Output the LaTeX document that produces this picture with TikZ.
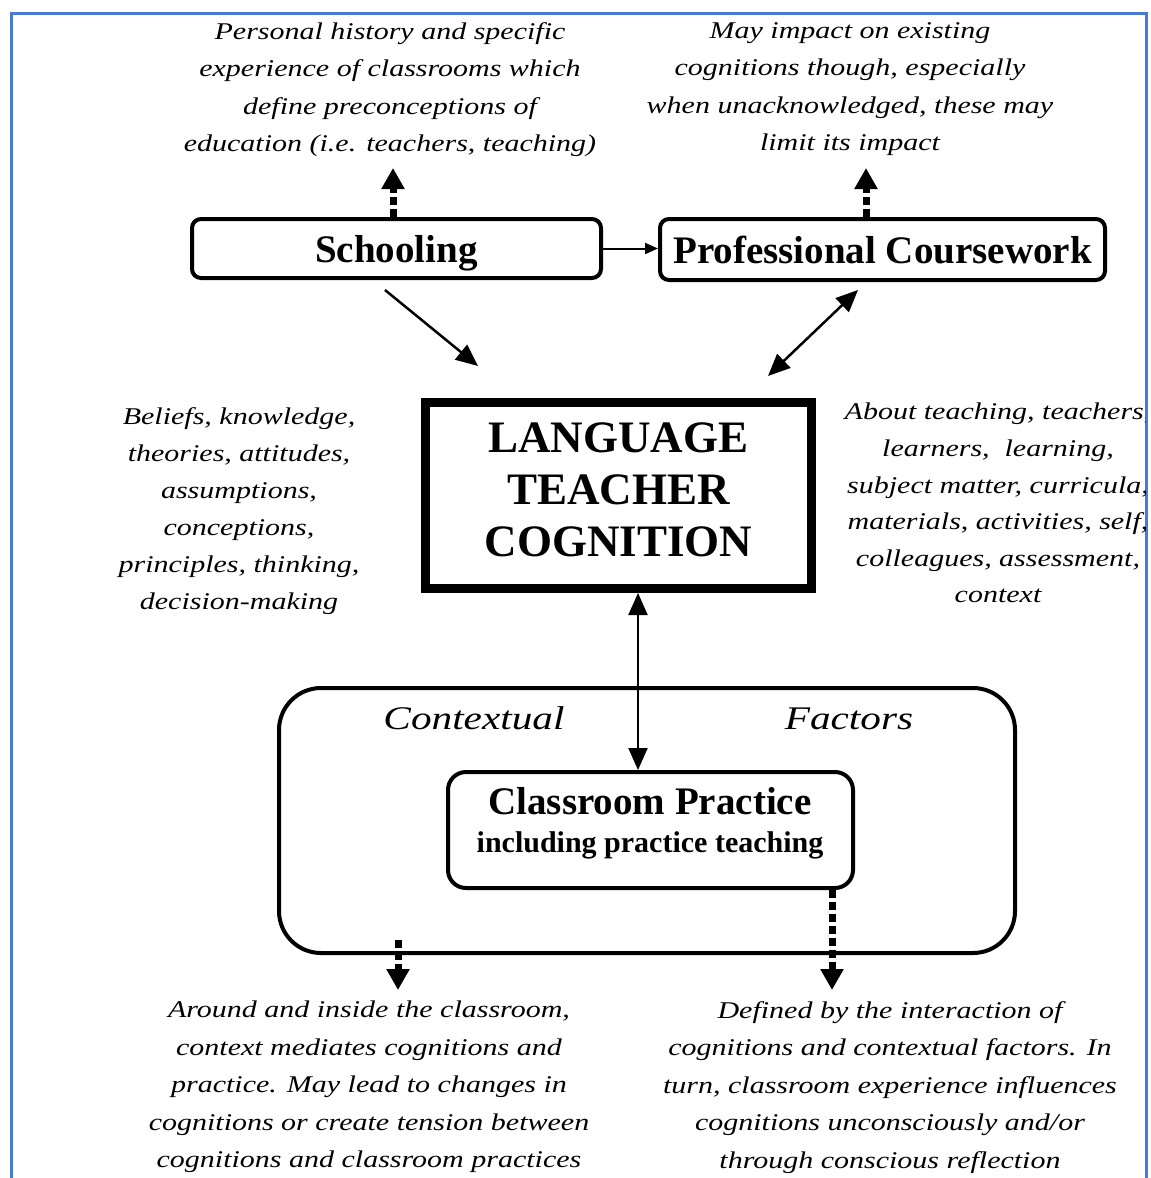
\documentclass[tikz,border=0pt]{standalone}
\usepackage{fontspec}
\setmainfont{Liberation Serif}
\newfontfamily\notefont[FakeStretch=1.25]{Liberation Serif}
\usetikzlibrary{arrows.meta,positioning}
\definecolor{frameblue}{HTML}{4A7BD0}

\begin{document}
\begin{tikzpicture}[x=1pt,y=-1pt,>={Triangle[length=22pt,width=19pt]},
    box/.style={draw,line width=4pt,rounded corners=9pt,inner sep=0pt,text depth=0pt,font=\fontsize{39}{44}\selectfont\bfseries},
    note/.style={align=center,inner sep=0pt,anchor=north,font=\notefont\itshape\fontsize{24}{37.5}\selectfont},
    dotarrow/.style={line width=7pt,dash pattern=on 8pt off 4pt,-{Triangle[length=21pt,width=22pt]}},
    link/.style={line width=2.5pt}]
    \useasboundingbox (0,0) rectangle (1151,1178);
    \fill[white] (0,0) rectangle (1151,1178);
    \draw[frameblue,line width=3pt] (11,1178) -- (11,13) -- (1146,13) -- (1146,1178);
    \node[box,minimum width=409pt,minimum height=59pt] (school) at (396.5,248.5) {Schooling};
    \node[box,minimum width=445pt,minimum height=61pt] (course) at (882.5,249.5) {Professional Coursework};
    \node[draw,line width=9pt,minimum width=386pt,minimum height=186pt] (ltc) at (618.5,495.5) {};
    \node[align=center,inner sep=0pt,font=\fontsize{45}{52}\selectfont\bfseries] (ltctitle) at (618.5,490) {LANGUAGE\\TEACHER\\COGNITION};
    \node[draw,line width=4pt,rounded corners=42pt,minimum width=736pt,minimum height=265pt] (context) at (647,820.5) {};
    \node[anchor=base,font=\notefont\itshape\fontsize{33}{40}\selectfont] (ctxleft) at (474,729) {Contextual};
    \node[anchor=base,font=\notefont\itshape\fontsize{33}{40}\selectfont] (ctxright) at (849,729) {Factors};
    \node[draw,line width=4pt,rounded corners=18pt,minimum width=405pt,minimum height=116pt,fill=white] (practice) at (650.5,830) {};
    \node[anchor=base,font=\fontsize{39}{44}\selectfont\bfseries] (cptitle) at (650,814) {Classroom Practice};
    \node[anchor=base,font=\fontsize{30}{36}\selectfont\bfseries] (cpsub) at (650,852) {including practice teaching};
    \node[note] (histnote) at (390,22) {Personal history and specific\\experience of classrooms which\\define preconceptions of\\education (i.e. teachers, teaching)};
    \node[note] (impactnote) at (850,22) {May impact on existing\\cognitions though, especially\\when unacknowledged, these may\\limit its impact};
    \node[note,font=\notefont\itshape\fontsize{24}{37}\selectfont] (beliefnote) at (239,407) {Beliefs, knowledge,\\theories, attitudes,\\assumptions,\\conceptions,\\principles, thinking,\\decision-making};
    \begin{scope}
        \clip (0,0) rectangle (1145,1178);
        \node[note,font=\notefont\itshape\fontsize{24}{36.6}\selectfont] (aboutnote) at (998,403) {About teaching, teachers,\\learners,~ learning,\\subject matter, curricula,\\materials, activities, self,\\colleagues, assessment,\\context};
    \end{scope}
    \node[note] (contextnote) at (369,1001) {Around and inside the classroom,\\context mediates cognitions and\\practice. May lead to changes in\\cognitions or create tension between\\cognitions and classroom practices};
    \node[note] (practicenote) at (890,1001) {Defined by the interaction of\\cognitions and contextual factors. In\\turn, classroom experience influences\\cognitions unconsciously and/or\\through conscious reflection};
    \coordinate (sa) at (385,290);
    \coordinate (sb) at (478,366);
    \coordinate (ca) at (858,290);
    \coordinate (cb) at (768,376);
    \coordinate (vx) at (638,0);
    \coordinate (d1) at (393,168);
    \coordinate (d2) at (866,168);
    \coordinate (d3a) at (398,940);
    \coordinate (d3b) at (398,990);
    \coordinate (d4) at (832,990);
    \draw[line width=2pt,-{Triangle[length=13pt,width=11pt]}] (school.east) -- (school.east -| course.west);
    \draw[link,->] (sa) -- (sb);
    \draw[link,<->] (ca) -- (cb);
    \draw[line width=2pt,<->] (ltc.south -| vx) -- (practice.north -| vx);
    \draw[dotarrow] (school.north -| d1) -- (d1);
    \draw[dotarrow] (course.north -| d2) -- (d2);
    \draw[dotarrow] (d3a) -- (d3b);
    \draw[dotarrow] (practice.south -| d4) -- (d4);
\end{tikzpicture}
\end{document}
